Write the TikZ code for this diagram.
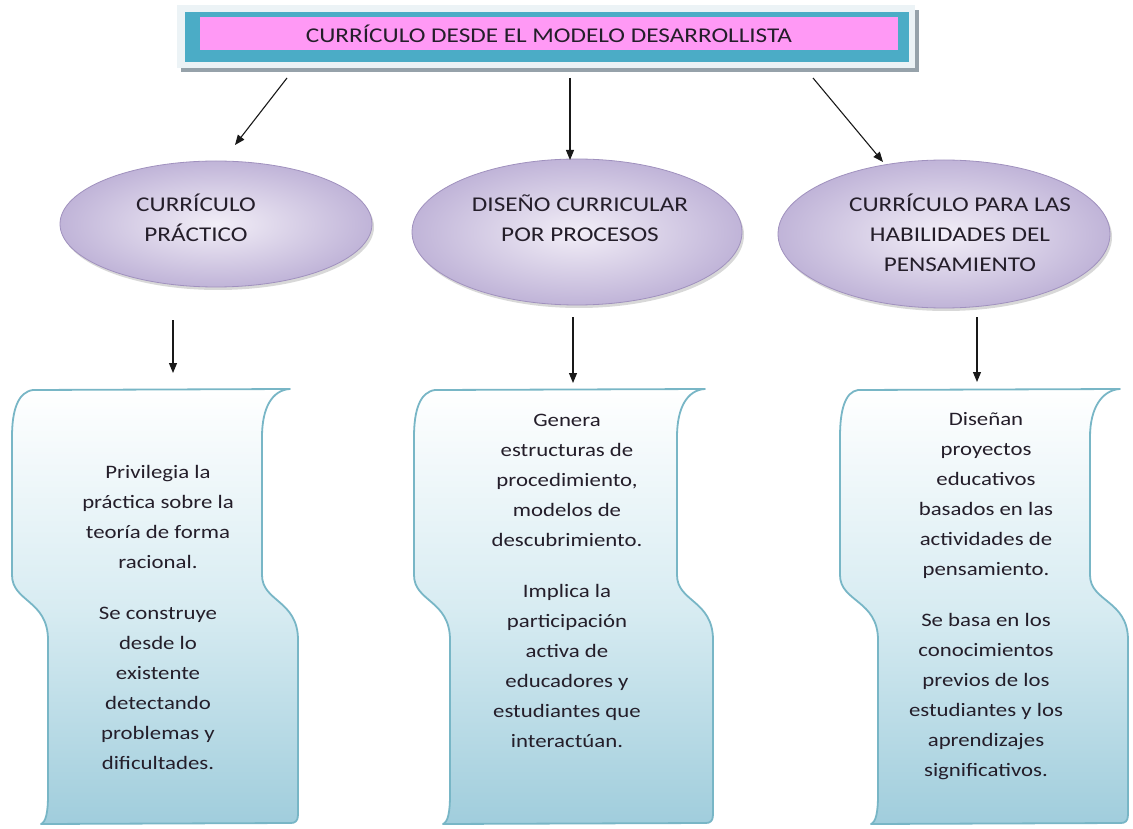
\documentclass[tikz,border=0pt]{standalone}
\usepackage{fontspec}
\setmainfont{Carlito}[FakeStretch=1.2]
\usepackage{tikz}
\usetikzlibrary{arrows.meta, shapes.geometric, shadows}
\usepackage{xcolor}
\definecolor{bannerTeal}{RGB}{75, 172, 198}
\definecolor{bannerPink}{RGB}{255, 153, 245}
\definecolor{bannerFrame}{RGB}{236, 243, 246}
\definecolor{bannerShade}{RGB}{150, 162, 170}
\definecolor{ovalEdge}{RGB}{160, 145, 190}
\definecolor{ovalIn}{RGB}{242, 238, 247}
\definecolor{ovalOut}{RGB}{192, 180, 216}
\definecolor{scrollLine}{RGB}{120, 182, 198}
\definecolor{scrollMid}{RGB}{216, 236, 242}
\definecolor{scrollLow}{RGB}{160, 205, 220}
\definecolor{inkText}{RGB}{36, 30, 42}

\begin{document}
\begin{tikzpicture}[x=1pt, y=-1pt, >={Triangle[length=10pt, width=8pt]},
  font=\fontsize{19}{30}\selectfont,
  banner/.style={fill=bannerPink, minimum width=698pt, minimum height=33pt, inner sep=0pt,
    text=inkText, font=\fontsize{21}{24}\selectfont},
  oval/.style={ellipse, draw=ovalEdge, line width=0.8pt, inner color=ovalIn, outer color=ovalOut,
    inner sep=0pt, drop shadow={shadow xshift=2pt, shadow yshift=-3pt, opacity=0.3}},
  ovaltext/.style={align=center, text=inkText, font=\fontsize{21}{30}\selectfont},
  scrollbox/.style={draw=scrollLine, line width=1.8pt, line join=round,
    top color=white, bottom color=scrollLow, middle color=scrollMid},
  notetext/.style={align=center, text=inkText},
  link/.style={->, line width=1.1pt, black!90}]
  \fill[white] (0,0) rectangle (1133,829);
  \useasboundingbox (0,0) rectangle (1133,829);
  % Banner
  \fill[bannerShade] (181,10) rectangle (919,72);
  \fill[bannerFrame] (177,5) rectangle (915,68);
  \fill[bannerTeal] (185,12) rectangle (909,62);
  \node[banner] (banner) at (549,33.5) {CURRÍCULO DESDE EL MODELO DESARROLLISTA};
  % Practico
  \node[oval, minimum width=312pt, minimum height=126pt] (ovalL) at (216,224) {};
  \node[ovaltext] (ovalLt) at (196,218) {CURRÍCULO\\PRÁCTICO};
  \begin{scope}[xshift=48pt]
    \path[scrollbox] (-15,390) -- (242,389) .. controls (224,390) and (214,408) .. (214,437)
      -- (214,575) .. controls (214,602) and (250,600) .. (250,640) -- (250,815)
      .. controls (250,821) and (247,823) .. (243,823) -- (-7,824)
      .. controls (-2,822) and (0,812) .. (0,795) -- (0,640)
      .. controls (0,600) and (-36,602) .. (-36,575) -- (-36,437)
      .. controls (-36,410) and (-30,392) .. (-15,390) -- cycle;
  \end{scope}
  \node[notetext] (noteL) at (158,617) {Privilegia la\\práctica sobre la\\teoría de forma\\racional.\\[21pt]Se construye\\desde lo\\existente\\detectando\\problemas y\\dificultades.};
  \coordinate (fromL) at (287,78);
  \coordinate (toL) at (235,145);
  \coordinate (downL) at (173,320);
  \coordinate (tipL) at (173,373);
  \draw[link] (fromL) -- (toL);
  \draw[link] (downL) -- (tipL);
  % Procesos
  \node[oval, minimum width=330pt, minimum height=146pt] (ovalM) at (577,232) {};
  \node[ovaltext] (ovalMt) at (580,218) {DISEÑO CURRICULAR\\POR PROCESOS};
  \begin{scope}[xshift=450pt]
    \path[scrollbox] (-15,390) -- (255,389) .. controls (237,390) and (227,408) .. (227,437)
      -- (227,575) .. controls (227,602) and (263,600) .. (263,640) -- (263,815)
      .. controls (263,821) and (260,823) .. (256,823) -- (-7,824)
      .. controls (-2,822) and (0,812) .. (0,795) -- (0,640)
      .. controls (0,600) and (-36,602) .. (-36,575) -- (-36,437)
      .. controls (-36,410) and (-30,392) .. (-15,390) -- cycle;
  \end{scope}
  \node[notetext] (noteM) at (567,581) {Genera\\estructuras de\\procedimiento,\\modelos de\\descubrimiento.\\[21pt]Implica la\\participación\\activa de\\educadores y\\estudiantes que\\interactúan.};
  \coordinate (fromM) at (570,78);
  \coordinate (toM) at (570,160);
  \coordinate (downM) at (573,317);
  \coordinate (tipM) at (573,383);
  \draw[link] (fromM) -- (toM);
  \draw[link] (downM) -- (tipM);
  % Pensamiento
  \node[oval, minimum width=332pt, minimum height=148pt] (ovalR) at (944,234) {};
  \node[ovaltext] (ovalRt) at (960,233) {CURRÍCULO PARA LAS\\HABILIDADES DEL\\PENSAMIENTO};
  \begin{scope}[xshift=878pt]
    \path[scrollbox] (-20,390) -- (242,389) .. controls (224,390) and (212,408) .. (212,437)
      -- (212,575) .. controls (212,602) and (250,600) .. (250,640) -- (250,815)
      .. controls (250,821) and (247,823) .. (243,823) -- (-7,824)
      .. controls (-2,822) and (0,812) .. (0,795) -- (0,640)
      .. controls (0,600) and (-38,602) .. (-38,575) -- (-38,437)
      .. controls (-38,410) and (-33,392) .. (-20,390) -- cycle;
  \end{scope}
  \node[notetext] (noteR) at (986,596) {Diseñan\\proyectos\\educativos\\basados en las\\actividades de\\pensamiento.\\[21pt]Se basa en los\\conocimientos\\previos de los\\estudiantes y los\\aprendizajes\\significativos.};
  \coordinate (fromR) at (813,78);
  \coordinate (toR) at (883,162);
  \coordinate (downR) at (977,317);
  \coordinate (tipR) at (977,382);
  \draw[link] (fromR) -- (toR);
  \draw[link] (downR) -- (tipR);
\end{tikzpicture}
\end{document}
